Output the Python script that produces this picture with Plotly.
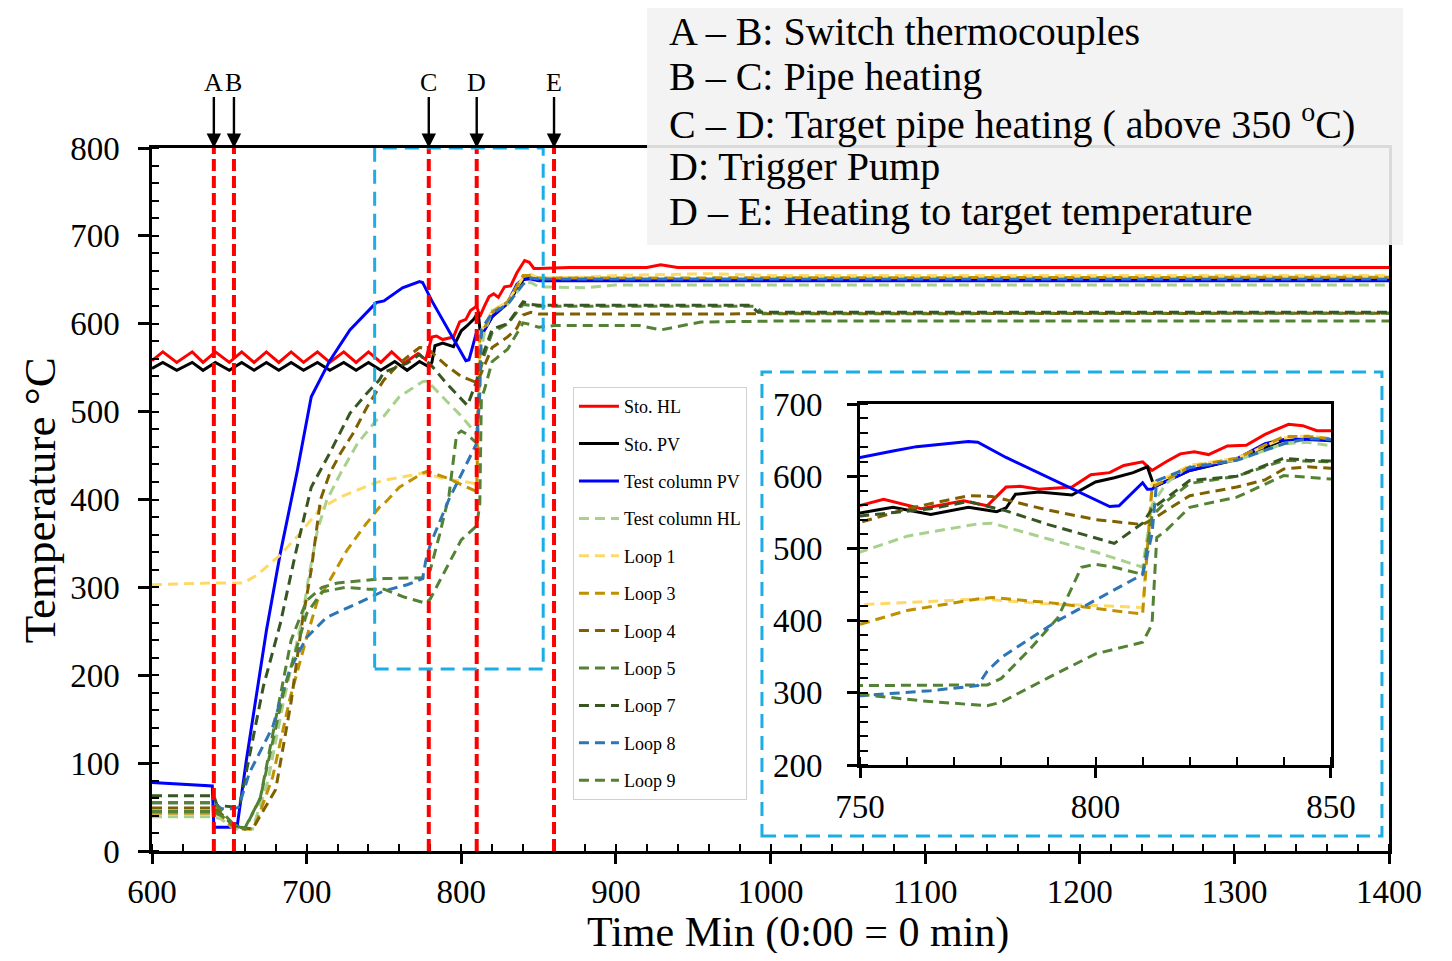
import plotly.graph_objects as go

# ---------------- data ----------------
hl_t = [600, 607, 616, 626, 633, 641, 650, 658, 666, 674, 682, 690, 698, 707, 715, 724, 732, 740, 748, 755,
        763, 772, 777, 781, 784, 788, 795, 799, 803, 806, 810, 812, 815, 818, 821, 824, 828, 832, 836, 841,
        844, 847, 850, 870, 920, 929, 940, 1000, 1400]
hl_v = [558, 568, 556, 568, 556, 568, 556, 568, 556, 568, 556, 568, 556, 568, 556, 568, 556, 568, 556, 568,
        555, 566, 559, 585, 586, 582, 585, 602, 605, 615, 620, 608, 620, 631, 634, 630, 642, 643, 658, 672,
        670, 663, 663, 664, 664, 667, 664, 664, 664]

pv_t = [600, 607, 616, 626, 633, 641, 650, 658, 666, 674, 682, 690, 698, 707, 715, 724, 732, 740, 748, 757,
        765, 773, 779, 781, 783, 788, 795, 800, 804, 808, 811, 812.5, 813, 820, 830, 836, 840, 845, 850, 1400]
pv_v = [549, 556, 547, 556, 547, 556, 547, 556, 547, 556, 547, 556, 547, 556, 547, 556, 547, 556, 547, 557,
        547, 557, 551, 556, 575, 578, 574, 592, 598, 605, 613, 585, 587, 608, 623, 640, 650, 652, 650, 650]

tpv_t = [600, 639, 640, 655, 661, 674, 683, 694, 703, 715, 728, 745, 750, 757, 762, 773, 775, 781, 790, 798,
         803, 805, 810, 811, 812, 813, 820, 830, 836, 840, 845, 850, 1400]
tpv_v = [78, 74, 27, 27, 103, 251, 339, 433, 517, 558, 593, 624, 626, 635, 641, 648, 647, 626, 598, 573,
         558, 559, 591, 582, 582, 587, 608, 624, 645, 651, 651, 649, 649]

thl_t = [600, 640, 645, 653, 665, 675, 685, 697, 701, 707, 713, 722, 733, 745, 750, 760, 775, 778, 790, 800,
         810, 812, 815, 820, 830, 840, 845, 850, 880, 900, 1400]
thl_v = [39, 39, 36, 25, 25, 80, 170, 263, 308, 365, 399, 430, 464, 490, 495, 517, 534, 535, 513, 495,
         474, 560, 590, 615, 622, 645, 647, 642, 641, 644, 644]

l1_t = [600, 640, 659, 668, 683, 696, 709, 722, 743, 750, 760, 775, 780, 790, 800, 810, 812, 815, 820, 830,
        840, 845, 850, 880, 900, 960, 1000, 1400]
l1_v = [303, 305, 305, 314, 337, 362, 390, 403, 418, 422, 425, 430, 428, 423, 421, 418, 590, 598, 615, 625,
        653, 656, 652, 653, 655, 657, 655, 655]

l3_t = [600, 640, 645, 653, 665, 668, 678, 689, 700, 707, 715, 726, 737, 747, 750, 760, 775, 778, 790, 800,
        810, 812, 815, 820, 830, 840, 845, 850, 1400]
l3_v = [43, 43, 40, 25, 25, 35, 84, 172, 243, 285, 308, 342, 369, 391, 395, 414, 430, 432, 425, 417,
        409, 585, 595, 613, 625, 655, 655, 652, 653]

l4_t = [600, 640, 645, 653, 665, 680, 690, 697, 703, 709, 715, 722, 730, 739, 747, 750, 760, 773, 778, 790,
        800, 810, 812, 820, 830, 836, 840, 845, 850, 1400]
l4_v = [49, 49, 42, 28, 25, 70, 170, 259, 320, 400, 430, 453, 475, 505, 528, 536, 555, 573, 572, 553,
        540, 533, 540, 573, 585, 595, 610, 613, 611, 612]

l5_t = [600, 640, 645, 653, 660, 670, 680, 690, 700, 710, 720, 740, 750, 777, 780, 786, 792, 797, 800, 804,
        810, 812, 815, 820, 830, 840, 845, 850, 990, 995, 1400]
l5_v = [45, 45, 40, 30, 26, 60, 150, 240, 285, 300, 305, 308, 310, 311, 320, 360, 404, 474, 478, 474,
        464, 545, 565, 590, 600, 622, 621, 620, 620, 612, 612]

l7_t = [600, 640, 642, 653, 657, 672, 683, 693, 703, 715, 728, 739, 747, 750, 765, 773, 781, 790, 804, 810,
        812, 820, 830, 840, 845, 850, 987, 992, 1400]
l7_v = [63, 63, 52, 50, 55, 187, 259, 340, 414, 453, 498, 521, 536, 545, 555, 565, 552, 533, 507, 535,
        555, 594, 600, 625, 622, 621, 621, 613, 613]

l8_t = [600, 640, 645, 653, 656, 663, 678, 689, 700, 713, 733, 750, 765, 775, 777, 780, 792, 810, 812, 813,
        820, 830, 840, 845, 850, 1400]
l8_v = [55, 55, 48, 48, 50, 89, 141, 206, 243, 266, 282, 296, 303, 310, 330, 349, 400, 464, 520, 594,
        612, 622, 645, 652, 651, 651]

l9_t = [600, 640, 645, 653, 660, 670, 685, 700, 710, 725, 740, 750, 763, 777, 780, 790, 800, 810, 812, 813,
        815, 820, 830, 840, 845, 850, 860, 915, 929, 955, 1002, 1400]
l9_v = [55, 55, 45, 30, 25, 60, 180, 270, 295, 300, 298, 298, 289, 282, 287, 321, 354, 370, 395, 515,
        525, 557, 571, 601, 599, 596, 598, 598, 593, 602, 603, 603]

series = [
    ("Sto. HL", hl_t, hl_v, "#ff0000", "solid"),
    ("Sto. PV", pv_t, pv_v, "#000000", "solid"),
    ("Test column PV", tpv_t, tpv_v, "#0000ff", "solid"),
    ("Test column HL", thl_t, thl_v, "#a9d18e", "10px,6px"),
    ("Loop 1", l1_t, l1_v, "#ffd966", "10px,6px"),
    ("Loop 3", l3_t, l3_v, "#bf9000", "10px,6px"),
    ("Loop 4", l4_t, l4_v, "#7f6000", "10px,6px"),
    ("Loop 5", l5_t, l5_v, "#548235", "10px,6px"),
    ("Loop 7", l7_t, l7_v, "#375623", "10px,6px"),
    ("Loop 8", l8_t, l8_v, "#2e75b6", "10px,6px"),
    ("Loop 9", l9_t, l9_v, "#548235", "10px,6px"),
]

event_t = [640, 653, 779, 810, 860]
event_lbl = ["A", "B", "C", "D", "E"]

notes = [
    "A – B: Switch thermocouples",
    "B – C: Pipe heating",
    "C – D: Target pipe heating ( above 350 <sup>o</sup>C)",
    "D: Trigger Pump",
    "D – E: Heating to target temperature",
]

zoom_box = (744, 853, 207, 800)

SERIF = "Liberation Serif, Times New Roman, serif"
LW = 3

fig = go.Figure()
for name, t, v, col, dash in series:
    fig.add_trace(go.Scatter(x=t, y=v, mode="lines", name=name, legendgroup=name,
                             line=dict(color=col, width=LW, dash=dash),
                             xaxis="x", yaxis="y"))
for name, t, v, col, dash in series:
    fig.add_trace(go.Scatter(x=t, y=v, mode="lines", name=name, legendgroup=name, showlegend=False,
                             line=dict(color=col, width=LW, dash=dash),
                             xaxis="x2", yaxis="y2"))

shapes = []
for t in event_t:
    shapes.append(dict(type="line", xref="x", yref="y", x0=t, x1=t, y0=0, y1=800,
                       line=dict(color="#ff0000", width=4, dash="12px,5px"), layer="above"))
shapes.append(dict(type="rect", xref="x", yref="y", x0=zoom_box[0], x1=zoom_box[1],
                   y0=zoom_box[2], y1=zoom_box[3],
                   line=dict(color="#1cade4", width=3, dash="14px,8px"), layer="above"))
# inset frame
shapes.append(dict(type="rect", xref="paper", yref="paper", x0=0.4931, x1=0.9943, y0=0.0213, y1=0.6814,
                   line=dict(color="#1cade4", width=3, dash="14px,8px"), layer="above"))
# note box
shapes.append(dict(type="rect", xref="paper", yref="paper", x0=0.4002, x1=1.0113, y0=0.862, y1=1.25,
                   fillcolor="rgba(242,242,242,0.9)", line=dict(width=0), layer="above"))

annotations = []
for t, lbl in zip(event_t, event_lbl):
    annotations.append(dict(x=t, y=800, xref="x", yref="y", ax=0, ay=-66, text=lbl, showarrow=True,
                            arrowhead=2, arrowsize=1.2, arrowwidth=2.4, arrowcolor="black",
                            borderpad=0, font=dict(family=SERIF, size=26, color="black")))
note_y = [32, 77, 121, 166, 211]
for txt, py in zip(notes, note_y):
    annotations.append(dict(x=(667 - 152) / 1237, y=(851 - py) / 703, xref="paper", yref="paper",
                            xanchor="left", yanchor="middle", text=txt, showarrow=False,
                            font=dict(family=SERIF, size=40, color="black")))
annotations.append(dict(x=0.522, y=(851 - 932) / 703, xref="paper", yref="paper",
                        text="Time Min (0:00 = 0 min)",
                        showarrow=False, xanchor="center", yanchor="middle",
                        font=dict(family=SERIF, size=42, color="black")))
annotations.append(dict(x=-0.0905, y=0.499, xref="paper", yref="paper", text="Temperature °C",
                        showarrow=False, textangle=-90, xanchor="center", yanchor="middle",
                        font=dict(family=SERIF, size=45, color="black")))

axis_common = dict(showline=True, linecolor="black", mirror=True, showgrid=False, zeroline=False,
                   ticks="outside", tickcolor="black")

# page body has an 8px margin: figure is drawn 8px right/down, so size and margins compensate
fig.update_layout(
    width=1436, height=945,
    margin=dict(l=144, r=55, t=140, b=102),
    paper_bgcolor="white", plot_bgcolor="white",
    font=dict(family=SERIF, color="black"),
    xaxis=dict(**axis_common, range=[600, 1400], dtick=100, linewidth=2.5, ticklen=10, tickwidth=2.5,
               tickfont=dict(size=33), ticklabelstandoff=0,
               minor=dict(dtick=20, ticks="inside", ticklen=7, tickwidth=2, tickcolor="black"),
               domain=[0, 1], anchor="y"),
    yaxis=dict(**axis_common, range=[0, 800], dtick=100, linewidth=2.5, ticklen=11, tickwidth=2.5,
               tickfont=dict(size=33), ticklabelstandoff=12,
               minor=dict(dtick=20, ticks="inside", ticklen=7, tickwidth=2, tickcolor="black"),
               domain=[0, 1], anchor="x"),
    xaxis2=dict(**axis_common, range=[750, 850], dtick=50, linewidth=3, ticklen=10, tickwidth=2.5,
                tickfont=dict(size=33), ticklabelstandoff=0,
                minor=dict(dtick=10, ticks="inside", ticklen=8, tickwidth=2, tickcolor="black"),
                domain=[0.5724, 0.9531], anchor="y2"),
    yaxis2=dict(**axis_common, range=[200, 700], dtick=100, linewidth=3, ticklen=10, tickwidth=2.5,
                tickfont=dict(size=33), ticklabelstandoff=18,
                minor=dict(dtick=20, ticks="inside", ticklen=8, tickwidth=2, tickcolor="black"),
                domain=[0.1223, 0.6358], anchor="x2"),
    legend=dict(x=0.3403, y=0.66, xanchor="left", yanchor="top", bgcolor="white",
                bordercolor="#d0d0d0", borderwidth=1, font=dict(family=SERIF, size=18),
                traceorder="grouped", tracegroupgap=11, itemwidth=40),
    shapes=shapes,
    annotations=annotations,
)

fig.write_html("out.html")
